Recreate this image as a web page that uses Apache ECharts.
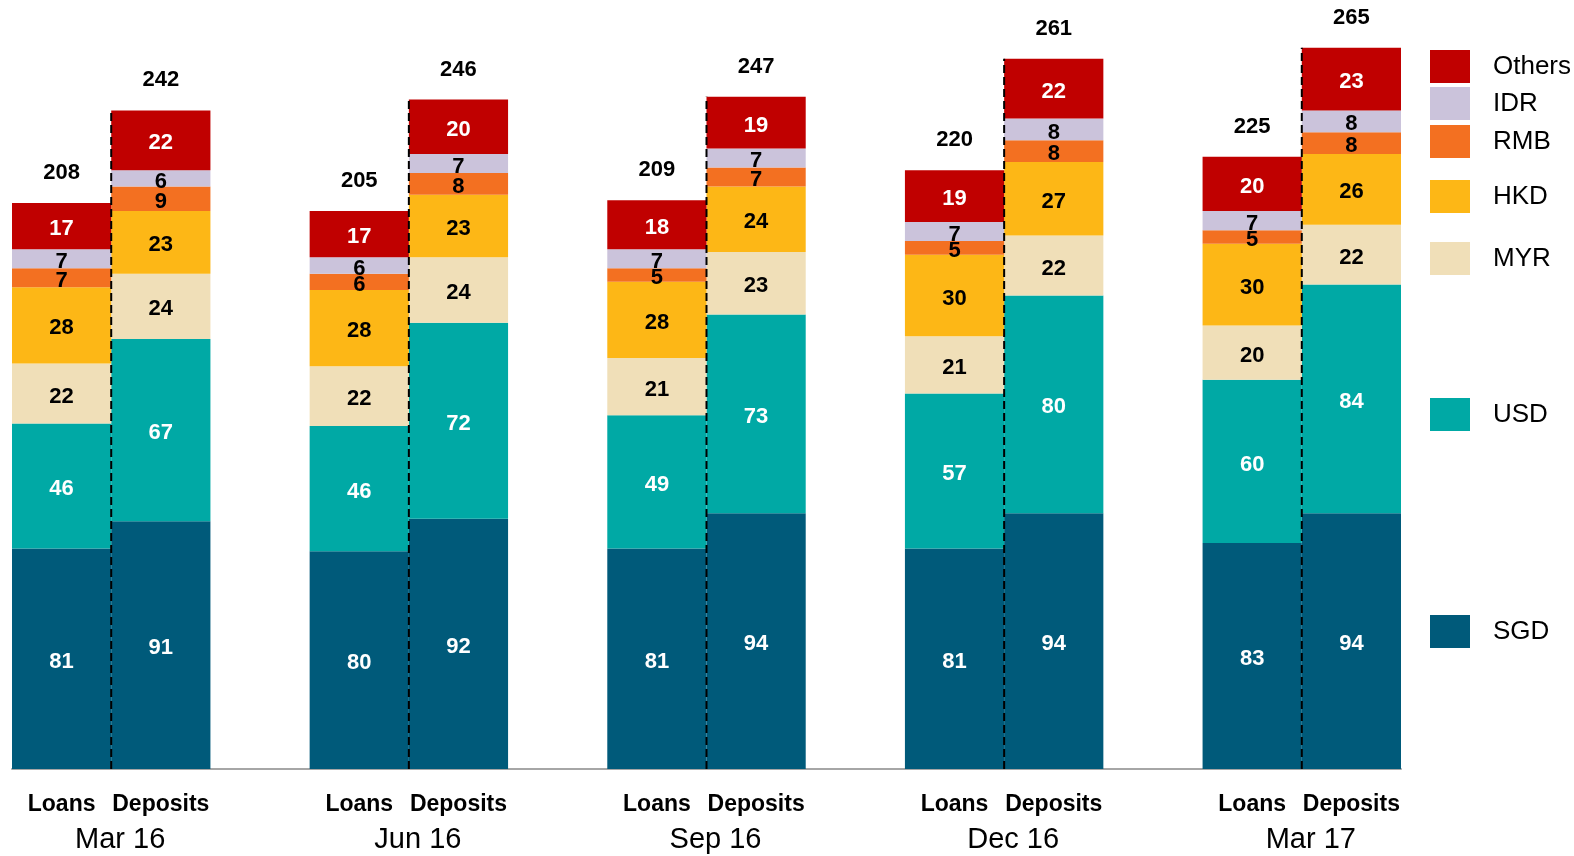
<!DOCTYPE html>
<html>
<head>
<meta charset="utf-8">
<title>Loans and Deposits by Currency</title>
<script src="https://cdn.jsdelivr.net/npm/echarts@6/dist/echarts.min.js"></script>
<style>
  html, body { margin: 0; padding: 0; background: #ffffff; }
  #chart { width: 1574px; height: 856px; }
</style>
</head>
<body>
<div id="chart"></div>
<script>
// Quarters and the two bars shown for each
const periods = ['Mar 16', 'Jun 16', 'Sep 16', 'Dec 16', 'Mar 17'];
const barKinds = ['Loans', 'Deposits'];

// Currency breakdown (S$ bn), bottom of the stack first
const currencies = ['SGD', 'USD', 'MYR', 'HKD', 'RMB', 'IDR', 'Others'];
const sgdLoans = [81, 80, 81, 81, 83];
const sgdDeposits = [91, 92, 94, 94, 94];
const usdLoans = [46, 46, 49, 57, 60];
const usdDeposits = [67, 72, 73, 80, 84];
const myrLoans = [22, 22, 21, 21, 20];
const myrDeposits = [24, 24, 23, 22, 22];
const hkdLoans = [28, 28, 28, 30, 30];
const hkdDeposits = [23, 23, 24, 27, 26];
const rmbLoans = [7, 6, 5, 5, 5];
const rmbDeposits = [9, 8, 7, 8, 8];
const idrLoans = [7, 6, 7, 7, 7];
const idrDeposits = [6, 7, 7, 8, 8];
const othersLoans = [17, 17, 18, 19, 20];
const othersDeposits = [22, 20, 19, 22, 23];

// Bar totals printed above each stack
const loanTotals = [208, 205, 209, 220, 225];
const depositTotals = [242, 246, 247, 261, 265];

// ---- styling ----
const FONT = '"Liberation Sans", Arial, Helvetica, sans-serif';
const currencyColors = {
  SGD: '#005A7A', USD: '#00A9A5', MYR: '#F0DFB8', HKD: '#FDB716',
  RMB: '#F37021', IDR: '#CBC3DB', Others: '#C00000'
};
const labelColors = {
  SGD: '#ffffff', USD: '#ffffff', MYR: '#000000', HKD: '#000000',
  RMB: '#000000', IDR: '#000000', Others: '#ffffff'
};
// Legend keys sit beside the right-hand stack
const legendTop = { Others: 50, IDR: 87, RMB: 125, HKD: 180, MYR: 242, USD: 398, SGD: 615 };

const seriesPairs = {
  SGD: [sgdLoans, sgdDeposits],
  USD: [usdLoans, usdDeposits],
  MYR: [myrLoans, myrDeposits],
  HKD: [hkdLoans, hkdDeposits],
  RMB: [rmbLoans, rmbDeposits],
  IDR: [idrLoans, idrDeposits],
  Others: [othersLoans, othersDeposits]
};

// Category slots: Loans, Deposits, then an empty spacer between quarters
const categories = [];
periods.forEach((p, k) => {
  categories.push(barKinds[0], barKinds[1]);
  if (k < periods.length - 1) categories.push('');
});

// Second axis has one tick on each Loans/Deposits boundary
const periodSlots = new Array(categories.length + 1).fill('');
periods.forEach((p, k) => { periodSlots[3 * k + 1] = p; });

function interleave(a, b) {
  const out = [];
  a.forEach((v, k) => {
    out.push(v, b[k]);
    if (k < a.length - 1) out.push('-');
  });
  return out;
}

const series = currencies.map(c => ({
  name: c,
  type: 'bar',
  stack: 'total',
  barWidth: '100%',
  barCategoryGap: 0,
  data: interleave(seriesPairs[c][0], seriesPairs[c][1]),
  itemStyle: { color: currencyColors[c] },
  label: {
    show: true,
    position: 'inside',
    offset: [0, 3],
    color: labelColors[c],
    fontFamily: FONT,
    fontWeight: 'bold',
    fontSize: 22
  },
  z: 2
}));

// Totals above each bar
series.push({
  name: 'Total',
  type: 'scatter',
  symbolSize: 0,
  data: interleave(loanTotals, depositTotals),
  itemStyle: { opacity: 1, color: '#000000' },
  label: {
    show: true,
    position: 'top',
    distance: 19,
    color: '#000000',
    opacity: 1,
    fontFamily: FONT,
    fontWeight: 'bold',
    fontSize: 22
  },
  silent: true,
  z: 3
});

// Dashed divider running up the Deposits bar of each quarter
periods.forEach((p, k) => {
  series.push({
    name: 'divider ' + p,
    type: 'line',
    xAxisIndex: 1,
    symbol: 'none',
    silent: true,
    data: [[3 * k + 1, 0], [3 * k + 1, depositTotals[k]]],
    lineStyle: { color: '#000000', width: 2, type: [8, 4] },
    z: 4
  });
});

const legends = currencies.map(c => ({
  data: [{ name: c, icon: 'rect' }],
  left: 1430,
  top: legendTop[c],
  padding: 0,
  itemWidth: 40,
  itemHeight: 33,
  selectedMode: false,
  textStyle: {
    fontFamily: FONT,
    fontSize: 26,
    color: '#000000',
    padding: [0, 0, 0, 18]
  }
}));

const chart = echarts.init(document.getElementById('chart'), null, { renderer: 'canvas' });
chart.setOption({
  animation: false,
  backgroundColor: '#ffffff',
  grid: { left: 12, right: 173, top: 7, bottom: 87, containLabel: false },
  legend: legends,
  xAxis: [
    {
      type: 'category',
      position: 'bottom',
      data: categories,
      axisLine: { show: true, lineStyle: { color: '#A6A6A6', width: 2 } },
      axisTick: { show: false },
      axisLabel: {
        interval: 0,
        margin: 24,
        color: '#000000',
        fontFamily: FONT,
        fontWeight: 'bold',
        fontSize: 23
      }
    },
    {
      type: 'category',
      position: 'bottom',
      boundaryGap: false,
      data: periodSlots,
      axisLine: { show: false },
      axisTick: { show: false },
      splitLine: { show: false },
      axisLabel: {
        interval: 0,
        margin: 56,
        padding: [0, 0, 0, 18],
        color: '#000000',
        fontFamily: FONT,
        fontSize: 29
      }
    }
  ],
  yAxis: {
    type: 'value',
    min: 0,
    max: 280,
    show: false,
    splitLine: { show: false }
  },
  series: series
});
</script>
</body>
</html>
